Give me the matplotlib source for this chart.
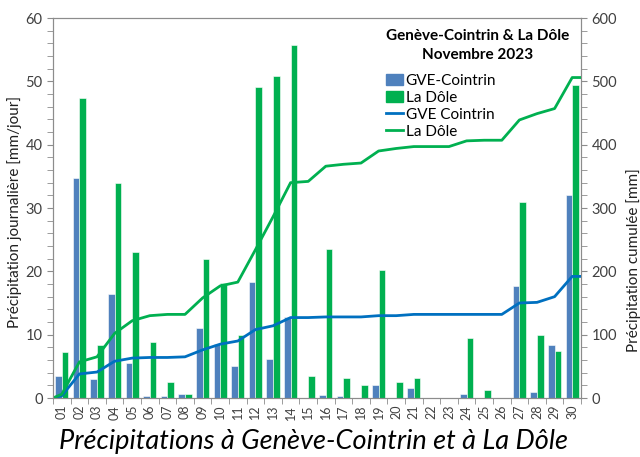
import numpy as np
import matplotlib
matplotlib.use("Agg")
import matplotlib.pyplot as plt
from matplotlib.patches import Patch
from matplotlib.lines import Line2D
from matplotlib.ticker import MultipleLocator

plt.rcParams['font.family'] = ['Lato', 'DejaVu Sans']

# daily precipitation [mm/jour], Nov 2023
days = ["%02d" % d for d in range(1, 31)]
gve_daily = [3.5, 34.8, 3.0, 16.4, 5.5, 0.3, 0.3, 0.7, 11.1, 8.6,
             5.1, 18.3, 6.2, 12.8, 0.0, 0.5, 0.3, 0.0, 2.0, 0.0,
             1.6, 0.0, 0.0, 0.6, 0.0, 0.0, 17.7, 0.9, 8.4, 32.0]
dole_daily = [7.3, 47.3, 8.3, 34.0, 23.0, 8.8, 2.5, 0.7, 22.0, 18.1,
              9.9, 49.1, 50.9, 55.7, 3.5, 23.5, 3.1, 2.1, 20.2, 2.6,
              3.1, 0.0, 0.0, 9.4, 1.2, 0.0, 31.0, 9.9, 7.5, 49.4]

# cumulated precipitation [mm]
gve_cum = [3.5, 38, 41, 58, 63, 64, 64, 65, 76, 85,
           90, 108, 114, 127, 127, 128, 128, 128, 130, 130,
           132, 132, 132, 132, 132, 132, 150, 151, 160, 192]
dole_cum = [6, 57, 65, 102, 122, 130, 132, 132, 158, 177,
            183, 234, 286, 340, 342, 366, 369, 371, 390, 394,
            397, 397, 397, 406, 407, 407, 439, 449, 457, 506]

c_gve_bar = "#4F81BD"
c_dole = "#00B050"
c_gve_line = "#0070C0"
c_axis = "#8C8C8C"

fig = plt.figure(figsize=(6.4, 4.57), dpi=100)
ax = fig.add_axes([53 / 640, 59 / 457, 528 / 640, 380 / 457])
ax2 = ax.twinx()

x = np.arange(1, 31)
w = 0.37
ax.bar(x - 0.19, gve_daily, w, color=c_gve_bar, edgecolor="white", linewidth=0.4, zorder=2)
ax.bar(x + 0.19, dole_daily, w, color=c_dole, edgecolor="white", linewidth=0.4, zorder=2)

xl = np.r_[0.5, x, 30.5]
ax2.plot(xl, np.r_[0, gve_cum, gve_cum[-1]], color=c_gve_line, lw=2)
ax2.plot(xl, np.r_[0, dole_cum, dole_cum[-1]], color=c_dole, lw=2)

ax.set_xlim(0.5, 30.5)
ax.set_ylim(0, 60)
ax2.set_ylim(0, 600)

ax.yaxis.set_major_locator(MultipleLocator(10))
ax.yaxis.set_minor_locator(MultipleLocator(2))
ax2.yaxis.set_major_locator(MultipleLocator(100))
ax2.yaxis.set_minor_locator(MultipleLocator(20))

ax.set_xticks(x)
ax.set_xticklabels(days, rotation=90, fontsize=9, color="#404040")
ax.tick_params(axis="x", length=0, pad=5)
ax.set_xticks(np.arange(0.5, 31, 1), minor=True)
ax.tick_params(axis="x", which="minor", length=4, color=c_axis)

for a in (ax, ax2):
    a.tick_params(axis="y", which="both", length=4, color=c_axis,
                  labelsize=10.5, labelcolor="#404040")
    for s in a.spines.values():
        s.set_color(c_axis)

ax.set_ylabel("Précipitation journalière [mm/jour]", fontsize=11, color="#202020")
ax.yaxis.set_label_coords(-0.058, 0.49)
ax2.set_ylabel("Précipitation cumulée [mm]", fontsize=11, color="#202020")
ax2.yaxis.set_label_coords(1.085, 0.363)

ax.text(0.805, 0.97, "Genève-Cointrin & La Dôle\nNovembre 2023", transform=ax.transAxes,
        ha="center", va="top", fontsize=11, fontweight="bold", linespacing=1.45)

handles = [Patch(color=c_gve_bar), Patch(color=c_dole),
           Line2D([], [], color=c_gve_line, lw=2), Line2D([], [], color=c_dole, lw=2)]
labels = ["GVE-Cointrin", "La Dôle", "GVE Cointrin", "La Dôle"]
ax2.legend(handles, labels, loc="upper left", bbox_to_anchor=(0.62, 0.87),
           frameon=False, fontsize=11, handlelength=1.1, handletextpad=0.15,
           labelspacing=0.2, borderaxespad=0)

fig.text(0.49, 0.035, "Précipitations à Genève-Cointrin et à La Dôle",
         ha="center", va="center", fontsize=19.5, style="italic")

fig.savefig("out.png", dpi=100)
